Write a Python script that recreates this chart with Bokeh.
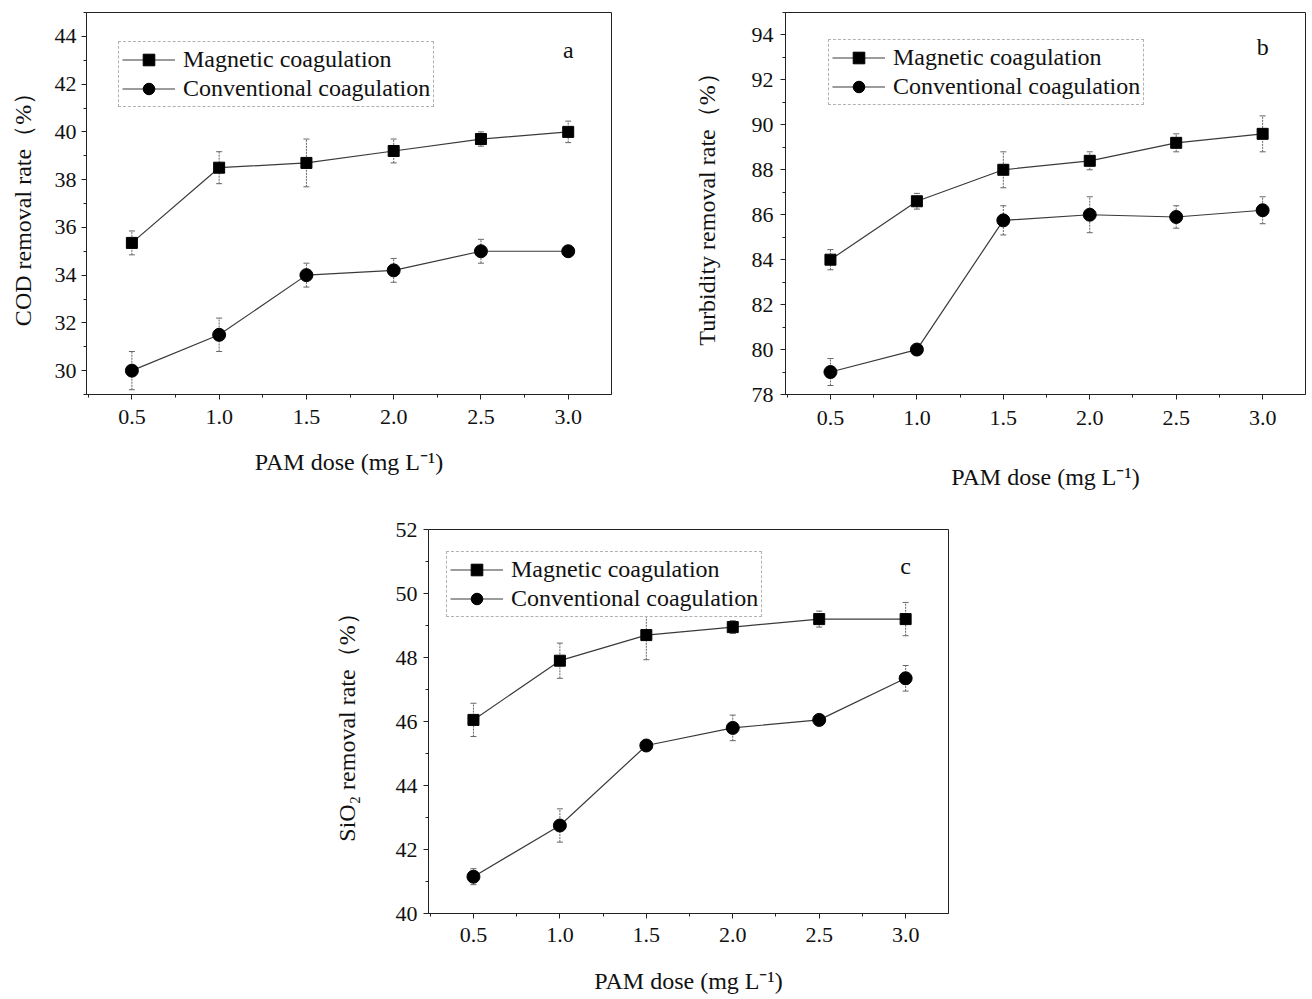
from bokeh.plotting import figure
from bokeh.models import (ColumnDataSource, Whisker, TeeHead, FixedTicker,
                          PrintfTickFormatter, Legend, LegendItem, Label,
                          Spacer, Range1d)
from bokeh.layouts import column, row
from bokeh.embed import file_html
from bokeh.resources import INLINE

# ---------------- data ----------------
dose = [0.5, 1.0, 1.5, 2.0, 2.5, 3.0]
x_ticks = [0.5, 1.0, 1.5, 2.0, 2.5, 3.0]
x_minor = [0.25, 0.75, 1.25, 1.75, 2.25, 2.75, 3.25]

cod_mag = [35.35, 38.5, 38.7, 39.2, 39.7, 40.0]
cod_mag_err = [0.5, 0.67, 1.0, 0.5, 0.3, 0.45]
cod_conv = [30.0, 31.5, 34.0, 34.2, 35.0, 35.0]
cod_conv_err = [0.8, 0.7, 0.5, 0.5, 0.5, 0.1]
cod_ticks = [30, 32, 34, 36, 38, 40, 42, 44]
cod_minor = [29, 31, 33, 35, 37, 39, 41, 43, 45]

turb_mag = [84.0, 86.6, 88.0, 88.4, 89.2, 89.6]
turb_mag_err = [0.45, 0.35, 0.8, 0.4, 0.4, 0.8]
turb_conv = [79.0, 80.0, 85.75, 86.0, 85.9, 86.2]
turb_conv_err = [0.6, 0.15, 0.65, 0.8, 0.5, 0.6]
turb_ticks = [78, 80, 82, 84, 86, 88, 90, 92, 94]
turb_minor = [79, 81, 83, 85, 87, 89, 91, 93, 95]

sio2_mag = [46.05, 47.9, 48.7, 48.95, 49.2, 49.2]
sio2_mag_err = [0.52, 0.55, 0.77, 0.2, 0.25, 0.52]
sio2_conv = [41.15, 42.75, 45.25, 45.8, 46.05, 47.35]
sio2_conv_err = [0.25, 0.52, 0.1, 0.4, 0.1, 0.4]
sio2_ticks = [40, 42, 44, 46, 48, 50, 52]
sio2_minor = [41, 43, 45, 47, 49, 51]

series_names = ["Magnetic coagulation", "Conventional coagulation"]
x_label = "PAM dose (mg L\u207b\u00b9)"

FONT = "Liberation Serif"
LINE = "#3a3a3a"
ERR = "#666666"


def make_panel(mag, mag_err, conv, conv_err, yr, yt, ym, ylabel, letter,
               letter_y, legend_loc, width, height, borders, xstand, ystand):
    p = figure(width=width, height=height, output_backend="svg",
               toolbar_location=None,
               x_range=Range1d(0.24, 3.248), y_range=Range1d(*yr),
               min_border_left=borders[0], min_border_right=borders[1],
               min_border_top=borders[2], min_border_bottom=borders[3])
    p.background_fill_color = "white"
    p.border_fill_color = "white"
    p.xgrid.visible = False
    p.ygrid.visible = False
    p.outline_line_color = "#222222"
    p.outline_line_width = 1

    p.xaxis.ticker = FixedTicker(ticks=x_ticks, minor_ticks=x_minor)
    p.xaxis.formatter = PrintfTickFormatter(format="%.1f")
    p.yaxis.ticker = FixedTicker(ticks=yt, minor_ticks=ym)
    for ax in (p.xaxis[0], p.yaxis[0]):
        ax.axis_line_color = "#222222"
        ax.major_tick_line_color = "#222222"
        ax.minor_tick_line_color = "#222222"
        ax.major_tick_out = 5
        ax.major_tick_in = 0
        ax.minor_tick_out = 3
        ax.minor_tick_in = 0
        ax.major_label_text_font = FONT
        ax.major_label_text_font_size = "22px"
        ax.major_label_text_color = "#111111"
        ax.axis_label_text_font = FONT
        ax.axis_label_text_font_size = "24px"
        ax.axis_label_text_font_style = "normal"
        ax.axis_label_text_color = "#111111"
    p.xaxis.axis_label = x_label
    p.yaxis.axis_label = ylabel
    p.xaxis.major_label_standoff = xstand[0]
    p.xaxis.axis_label_standoff = xstand[1]
    p.yaxis.major_label_standoff = ystand[0]
    p.yaxis.axis_label_standoff = ystand[1]

    renderers = []
    for ys, es, mk, sz in ((mag, mag_err, "square", 11),
                           (conv, conv_err, "circle", 13)):
        src = ColumnDataSource(dict(
            x=dose, y=ys,
            upper=[v + e for v, e in zip(ys, es)],
            lower=[v - e for v, e in zip(ys, es)]))
        w = Whisker(source=src, base="x", upper="upper", lower="lower",
                    line_color=ERR, line_width=1, line_dash="2 1",
                    upper_head=TeeHead(size=6, line_color=ERR, line_width=1),
                    lower_head=TeeHead(size=6, line_color=ERR, line_width=1))
        p.add_layout(w)
        ln = p.line("x", "y", source=src, line_color=LINE, line_width=1.2)
        sc = p.scatter("x", "y", source=src, marker=mk, size=sz,
                       fill_color="black", line_color="black")
        renderers.append((ln, sc))

    legend = Legend(
        items=[LegendItem(label=series_names[0], renderers=list(renderers[0])),
               LegendItem(label=series_names[1], renderers=list(renderers[1]))],
        location=legend_loc, orientation="vertical",
        label_text_font=FONT, label_text_font_size="24px",
        label_text_color="#111111",
        glyph_width=53, glyph_height=29, label_height=29, spacing=0,
        padding=3, margin=0, label_standoff=8,
        border_line_color="#666666", border_line_dash="dotted",
        border_line_width=1, background_fill_color="white",
        background_fill_alpha=1.0)
    p.add_layout(legend)

    p.add_layout(Label(x=3.0, y=letter_y, text=letter, text_font=FONT,
                       text_font_size="24px", text_align="center",
                       text_baseline="middle", text_color="#111111"))
    return p


pa = make_panel(cod_mag, cod_mag_err, cod_conv, cod_conv_err, (29, 45),
                cod_ticks, cod_minor, "COD removal rate\uff08%\uff09", "a",
                43.45, (32, 287), 690, 508, (86, 79, 10, 114), (10, 22),
                (5, 16))
pb = make_panel(turb_mag, turb_mag_err, turb_conv, turb_conv_err, (78, 95),
                turb_ticks, turb_minor, "Turbidity removal rate\uff08%\uff09",
                "b", 93.45, (43, 289), 618, 508, (95, 3, 12, 114), (11, 36),
                (7, 29))
pc = make_panel(sio2_mag, sio2_mag_err, sio2_conv, sio2_conv_err, (40, 52),
                sio2_ticks, sio2_minor, "SiO\u2082 removal rate\uff08%\uff09",
                "c", 50.87, (18, 296), 623, 488, (96, 5, 21, 83), (9, 23),
                (6, 33))

layout = column(row(pa, pb), row(Spacer(width=330, height=10), pc))

open("out.html", "w").write(file_html(layout, INLINE))
